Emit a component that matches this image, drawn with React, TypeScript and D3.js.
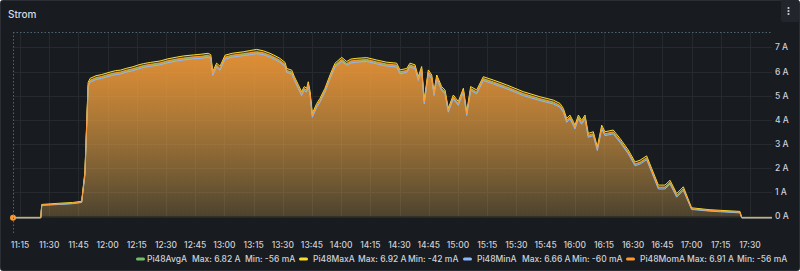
import React from "react";
import * as d3 from "d3";

const times: string[] = [
  "11:11:24","11:25:40","11:26:10","11:35:30","11:42:00","11:46:40","11:48:20","11:50:00","11:51:00","11:54:00",
  "11:57:00","12:01:15","12:04:00","12:06:30","12:09:50","12:13:00","12:15:30","12:18:20","12:22:00","12:26:55",
  "12:31:00","12:35:30","12:39:00","12:44:00","12:48:00","12:51:40","12:53:00","12:54:00","12:56:00","12:57:45",
  "13:00:20","13:04:00","13:09:40","13:13:00","13:16:35","13:20:00","13:23:25","13:26:00","13:28:30","13:31:10",
  "13:32:00","13:34:35","13:36:00","13:38:00","13:39:40","13:41:00","13:42:15","13:43:05","13:44:00","13:45:10",
  "13:47:25","13:49:05","13:51:40","13:54:15","13:56:50","14:00:15","14:02:50","14:05:00","14:08:00","14:13:05",
  "14:18:15","14:23:20","14:28:30","14:30:10","14:33:40","14:35:20","14:37:55","14:39:35","14:41:20","14:42:40",
  "14:44:45","14:46:30","14:47:40","14:49:05","14:51:35","14:53:20","14:55:00","14:57:35","15:00:10","15:02:45",
  "15:04:30","15:06:30","15:09:35","15:13:00","15:18:10","15:25:00","15:33:30","15:42:05","15:49:00","15:52:25",
  "15:54:05","15:55:50","15:57:30","15:59:15","16:00:05","16:01:50","16:03:30","16:05:15","16:06:55","16:09:30",
  "16:11:35","16:13:50","16:15:30","16:19:45","16:23:15","16:27:30","16:30:55","16:33:30","16:36:55","16:39:30",
  "16:42:55","16:46:20","16:48:55","16:52:20","16:55:45","17:00:00","17:09:25","17:24:50","17:25:45","17:41:18",
];

const momA: number[] = [
  -0.05,-0.05,0.48,0.52,0.55,0.60,1.78,5.45,5.64,5.75,
  5.80,5.90,5.95,5.98,6.06,6.12,6.18,6.25,6.30,6.36,
  6.45,6.52,6.56,6.61,6.63,6.68,6.62,5.92,6.27,6.13,
  6.60,6.68,6.74,6.78,6.82,6.78,6.68,6.58,6.47,6.30,
  6.05,5.98,5.70,5.37,5.09,5.30,5.23,5.50,5.10,4.19,
  4.60,4.81,5.23,5.78,6.27,6.51,6.34,6.44,6.47,6.50,
  6.40,6.31,6.27,5.99,6.05,6.27,6.20,5.71,6.13,4.74,
  5.99,5.78,5.09,5.78,5.30,5.16,4.40,4.95,4.68,5.23,
  4.26,5.30,5.16,5.71,5.57,5.37,5.09,4.88,4.74,4.60,
  4.40,3.98,4.12,3.85,3.70,4.12,3.90,4.12,3.36,3.43,
  2.81,3.70,3.43,3.50,3.15,2.67,2.18,2.25,2.43,1.91,
  1.22,1.22,1.42,0.87,1.15,0.32,0.25,0.18,-0.05,-0.05,
];

const maxA: number[] = [
  -0.04,-0.04,0.50,0.55,0.58,0.63,1.85,5.55,5.72,5.83,
  5.88,5.98,6.04,6.06,6.14,6.20,6.27,6.33,6.38,6.44,
  6.53,6.60,6.65,6.69,6.72,6.76,6.70,6.00,6.35,6.22,
  6.68,6.76,6.82,6.87,6.92,6.86,6.76,6.66,6.55,6.38,
  6.13,6.06,5.78,5.45,5.17,5.38,5.31,5.58,5.18,4.27,
  4.68,4.89,5.31,5.86,6.35,6.59,6.42,6.52,6.55,6.58,
  6.48,6.39,6.35,6.07,6.13,6.35,6.28,5.79,6.21,4.82,
  6.07,5.86,5.17,5.86,5.38,5.24,4.48,5.03,4.76,5.31,
  4.34,5.38,5.24,5.79,5.65,5.45,5.17,4.96,4.82,4.68,
  4.48,4.06,4.20,3.93,3.78,4.20,3.98,4.20,3.44,3.51,
  2.89,3.78,3.51,3.58,3.23,2.75,2.26,2.33,2.51,1.99,
  1.30,1.30,1.50,0.95,1.23,0.36,0.28,0.21,-0.04,-0.04,
];

const avgA: number[] = [
  -0.05,-0.05,0.47,0.51,0.54,0.59,1.74,5.40,5.61,5.72,
  5.77,5.87,5.92,5.95,6.03,6.09,6.15,6.22,6.27,6.33,
  6.42,6.49,6.53,6.58,6.60,6.65,6.59,5.89,6.24,6.10,
  6.57,6.65,6.71,6.75,6.79,6.75,6.65,6.55,6.44,6.27,
  6.02,5.95,5.67,5.34,5.06,5.27,5.20,5.47,5.07,4.16,
  4.57,4.78,5.20,5.75,6.24,6.48,6.31,6.41,6.44,6.47,
  6.37,6.28,6.24,5.96,6.02,6.24,6.17,5.68,6.10,4.71,
  5.96,5.75,5.06,5.75,5.27,5.13,4.37,4.92,4.65,5.20,
  4.23,5.27,5.13,5.68,5.54,5.34,5.06,4.85,4.71,4.57,
  4.37,3.95,4.09,3.82,3.67,4.09,3.87,4.09,3.33,3.40,
  2.78,3.67,3.40,3.47,3.12,2.64,2.15,2.22,2.40,1.88,
  1.19,1.19,1.39,0.85,1.13,0.31,0.24,0.17,-0.05,-0.05,
];

const minA: number[] = [
  -0.06,-0.06,0.46,0.50,0.53,0.58,1.70,5.37,5.56,5.67,
  5.72,5.82,5.87,5.90,5.98,6.04,6.10,6.17,6.22,6.28,
  6.37,6.44,6.48,6.53,6.55,6.60,6.54,5.84,6.19,6.05,
  6.52,6.60,6.66,6.70,6.74,6.70,6.60,6.50,6.39,6.22,
  5.97,5.90,5.62,5.29,5.01,5.22,5.15,5.42,5.02,4.11,
  4.52,4.73,5.15,5.70,6.19,6.43,6.26,6.36,6.39,6.42,
  6.32,6.23,6.19,5.91,5.97,6.19,6.12,5.63,6.05,4.66,
  5.91,5.70,5.01,5.70,5.22,5.08,4.32,4.87,4.60,5.15,
  4.18,5.22,5.08,5.63,5.49,5.29,5.01,4.80,4.66,4.52,
  4.32,3.90,4.04,3.77,3.62,4.04,3.82,4.04,3.28,3.35,
  2.73,3.62,3.35,3.42,3.07,2.59,2.10,2.17,2.35,1.83,
  1.14,1.14,1.34,0.80,1.08,0.29,0.22,0.15,-0.06,-0.06,
];

const seriesNames = ["Pi48AvgA", "Pi48MaxA", "Pi48MinA", "Pi48MomA"];
const seriesColors = ["#73BF69", "#FADE2A", "#8AB8FF", "#FF9830"];
const seriesMax = ["6.82 A", "6.92 A", "6.66 A", "6.91 A"];
const seriesMin = ["-56 mA", "-42 mA", "-60 mA", "-56 mA"];
const yTicks = [0, 1, 2, 3, 4, 5, 6, 7];
const title = "Strom";
const timeStart = "11:11:24";
const timeEnd = "17:41:18";
const yMax = 7.64;

const FONT = "Inter, 'Noto Sans', sans-serif";

export default function App() {
  const W = 800, H = 271;
  const left = 13, right = 772, top = 32, bottom = 216.5;
  const parse = d3.timeParse("%H:%M:%S");
  const x = d3.scaleTime().domain([parse(timeStart)!, parse(timeEnd)!]).range([left, right]);
  const y = d3.scaleLinear().domain([0, yMax]).range([bottom, top]);
  const dates = times.map((t) => parse(t)!);
  const allSeries = [avgA, maxA, minA, momA];
  const n = Math.min(dates.length, ...allSeries.map((s) => s.length));

  const xTicks = d3.timeMinute.every(15)!.range(parse("11:15:00")!, parse("17:31:00")!);
  const fmt = d3.timeFormat("%H:%M");

  const line = d3.line<number>().x((_, i) => x(dates[i])).y((v) => y(v));
  const area = d3.area<number>().x((_, i) => x(dates[i])).y0(y(0)).y1((v) => y(v));

  // legend layout: [swatch x, name x, max x, min x]
  const legendPos = [
    [136, 147, 192, 245],
    [299, 313, 358, 408],
    [463, 477, 522, 572],
    [626, 640, 687, 737],
  ];
  const topOp = [0.18, 0.2, 0.15, 0.9];
  const botOp = [0.05, 0.05, 0.05, 0.15];

  return (
    <svg width={W} height={H} style={{ position: "absolute", left: 0, top: 0, fontFamily: FONT }}>
      <defs>
        {seriesColors.map((c, i) => (
          <linearGradient key={i} id={`g${i}`} gradientUnits="userSpaceOnUse" x1={0} y1={top} x2={0} y2={bottom}>
            <stop offset="0%" stopColor={c} stopOpacity={topOp[i]} />
            <stop offset="100%" stopColor={c} stopOpacity={botOp[i]} />
          </linearGradient>
        ))}
        <clipPath id="plot">
          <rect x={left} y={top - 2} width={right - left} height={bottom - top + 6} />
        </clipPath>
      </defs>
      <rect x={0.5} y={0.5} width={W - 1} height={H - 1} rx={2} fill="#181b1f" stroke="#2a2d33" />
      <text x={8} y={18} fontSize={10} fontWeight={500} fill="#d8d9e0">{title}</text>
      <rect x={781} y={0} width={18} height={22} rx={2} fill="#22252b" />
      {[8, 11, 14].map((cy) => (
        <circle key={cy} cx={788.5} cy={cy} r={1.1} fill="#ccccdc" />
      ))}

      {/* grid */}
      {yTicks.map((t) => (
        <line key={`gy${t}`} x1={left} x2={right} y1={Math.round(y(t)) + 0.5} y2={Math.round(y(t)) + 0.5} stroke="#26292e" />
      ))}
      {xTicks.map((t, i) => (
        <line key={`gx${i}`} x1={Math.round(x(t)) + 0.5} x2={Math.round(x(t)) + 0.5} y1={top} y2={bottom} stroke="#26292e" />
      ))}

      {/* series */}
      <g clipPath="url(#plot)">
        {allSeries.map((s, i) => (
          <path key={`a${i}`} d={area(s.slice(0, n))!} fill={`url(#g${i})`} />
        ))}
        {allSeries.map((s, i) => (
          <path key={`l${i}`} d={line(s.slice(0, n))!} fill="none" stroke={seriesColors[i]} strokeWidth={1} />
        ))}
      </g>
      <circle cx={x(dates[0])} cy={y(momA[0])} r={3} fill="#FF9830" />

      {/* annotation dotted lines */}
      <line x1={left} x2={right} y1={top + 0.5} y2={top + 0.5} stroke="#4f6670" strokeDasharray="1.5 2" />
      <line x1={left + 0.5} x2={left + 0.5} y1={top} y2={233} stroke="#4f6670" strokeDasharray="1.5 2" />

      {/* y axis labels */}
      {yTicks.map((t) => (
        <text key={`ty${t}`} x={775} y={y(t)} dy="0.35em" fontSize={8.5} fontWeight={500} fill="#cfd1d8">{`${t} A`}</text>
      ))}
      {/* x axis labels */}
      {xTicks.map((t, i) => (
        <text key={`tx${i}`} x={x(t)} y={248} textAnchor="middle" fontSize={8.5} fontWeight={500} fill="#cfd1d8">{fmt(t)}</text>
      ))}

      {/* legend */}
      {seriesNames.map((nm, i) => (
        <g key={`lg${i}`} fontSize={8.5} fontWeight={500} fill="#cfd1d8">
          <rect x={legendPos[i][0]} y={257.5} width={9} height={3} rx={1.5} fill={seriesColors[i]} />
          <text x={legendPos[i][1]} y={262}>{nm}</text>
          <text x={legendPos[i][2]} y={262}>{`Max: ${seriesMax[i]}`}</text>
          <text x={legendPos[i][3]} y={262}>{`Min: ${seriesMin[i]}`}</text>
        </g>
      ))}
    </svg>
  );
}
